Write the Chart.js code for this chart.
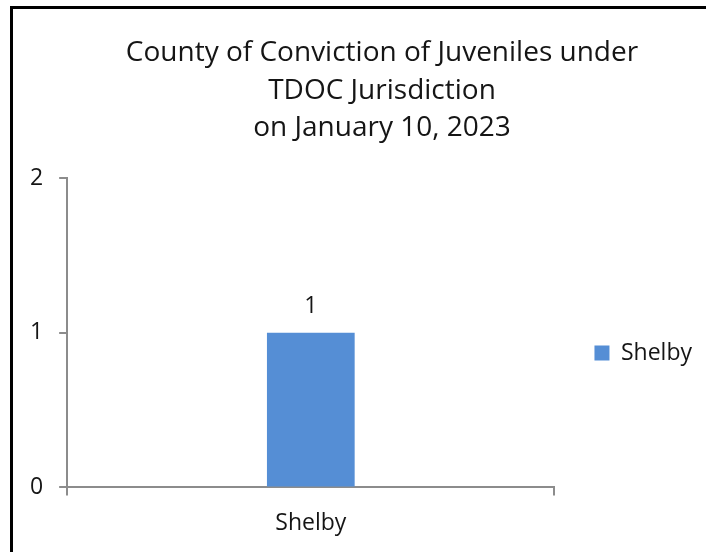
<!DOCTYPE html>
<html>
<head>
<meta charset="utf-8">
<script src="https://cdn.jsdelivr.net/npm/chart.js@4"></script>
<style>
  html, body { margin: 0; padding: 0; background: #fff; overflow: hidden; }
  #frame {
    position: absolute; left: 10px; top: 6px; width: 760px; height: 560px;
    border-left: 3px solid #000; border-top: 3px solid #000;
  }
  #chart { position: absolute; left: 12px; top: 9px; }
</style>
</head>
<body>
<div id="frame"></div>
<canvas id="chart" width="740" height="545"></canvas>
<script>
// chart data
const titleLines = ['County of Conviction of Juveniles under', 'TDOC Jurisdiction', 'on January 10, 2023'];
const categories = ['Shelby'];
const seriesName = 'Shelby';
const seriesValues = [1];
const yTicks = [0, 1, 2];

const BAR_BLUE = '#558ed5';
const AXIS_GREY = '#8c8c8c';
const TEXT = '#151515';
const FONT = "'Open Sans', sans-serif";
const PLOT_TOP = 169; // canvas px where the value axis starts

// title centred on the whole chart box (the plot sits left of centre)
const wideTitle = {
  id: 'wideTitle',
  afterDraw(chart) {
    const ctx = chart.ctx;
    ctx.save();
    ctx.font = '28px ' + FONT;
    ctx.fillStyle = TEXT;
    ctx.textAlign = 'center';
    ctx.textBaseline = 'alphabetic';
    titleLines.forEach((line, i) => {
      ctx.fillText(line, chart.width / 2, 52 + i * 37.5);
    });
    ctx.restore();
  }
};

// value label above each bar
const barLabels = {
  id: 'barLabels',
  afterDatasetsDraw(chart) {
    const ctx = chart.ctx;
    ctx.save();
    ctx.font = '23px ' + FONT;
    ctx.fillStyle = TEXT;
    ctx.textAlign = 'center';
    ctx.textBaseline = 'alphabetic';
    chart.getDatasetMeta(0).data.forEach((bar, i) => {
      ctx.fillText(String(seriesValues[i]), bar.x, bar.y - 20);
    });
    ctx.restore();
  }
};

new Chart(document.getElementById('chart'), {
  type: 'bar',
  data: {
    labels: categories,
    datasets: [{
      label: seriesName,
      data: seriesValues,
      backgroundColor: BAR_BLUE,
      borderWidth: 0,
      categoryPercentage: 1,
      barPercentage: 0.18
    }]
  },
  options: {
    responsive: false,
    devicePixelRatio: 1,
    animation: false,
    // top padding is smaller than the plot top so the legend sits a bit lower
    layout: { padding: { left: 2, right: 50, top: 146, bottom: 3 } },
    plugins: {
      title: { display: false },
      legend: {
        position: 'right',
        labels: {
          color: TEXT,
          font: { family: FONT, size: 23 },
          boxWidth: 15,
          boxHeight: 15,
          padding: 40
        }
      },
      tooltip: { enabled: false }
    },
    scales: {
      x: {
        offset: true,
        grid: {
          offset: true,
          drawOnChartArea: false,
          drawTicks: true,
          tickLength: 8,
          color: AXIS_GREY,
          lineWidth: 2
        },
        border: { color: AXIS_GREY, width: 2 },
        ticks: { color: TEXT, font: { family: FONT, size: 23 }, padding: 14 }
      },
      y: {
        min: yTicks[0],
        max: yTicks[yTicks.length - 1],
        grid: {
          drawOnChartArea: false,
          drawTicks: true,
          tickLength: 8,
          color: AXIS_GREY,
          lineWidth: 2
        },
        border: { color: AXIS_GREY, width: 2 },
        ticks: {
          stepSize: 1,
          color: TEXT,
          font: { family: FONT, size: 23 },
          padding: 16
        },
        afterBuildTicks(scale) {
          scale.ticks = yTicks.map(v => ({ value: v }));
        },
        afterFit(scale) { scale.paddingTop = PLOT_TOP; }
      }
    }
  },
  plugins: [barLabels, wideTitle]
});
</script>
</body>
</html>
